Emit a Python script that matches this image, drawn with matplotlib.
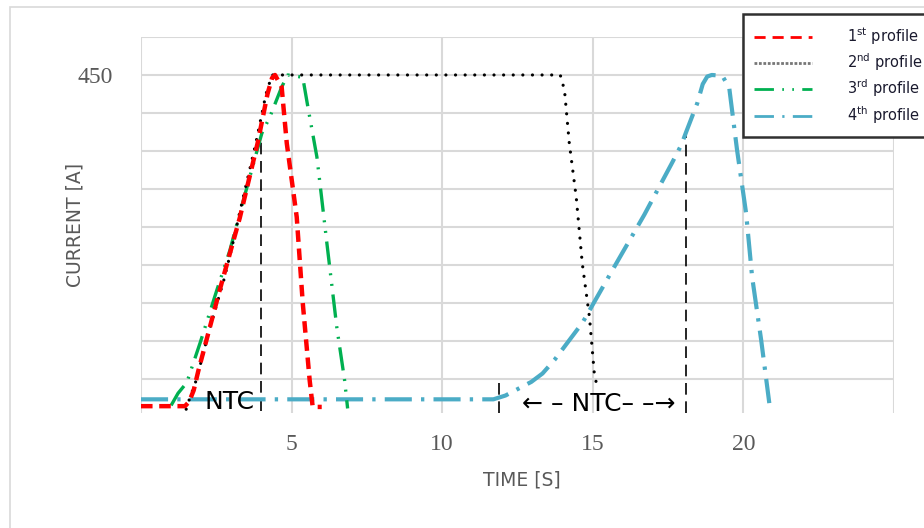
import matplotlib
matplotlib.use("Agg")
import matplotlib.pyplot as plt
from matplotlib.lines import Line2D
from matplotlib.patches import Rectangle

# profile data: time [s], current [A]
t1 = [0, 1.46, 1.6, 1.75, 1.9, 2.2, 2.6, 3.28, 3.87, 4.2, 4.35, 4.45, 4.67, 4.84, 5.17, 5.37, 5.6, 5.7, 6.0]
i1 = [14, 14, 20, 35, 60, 105, 165, 262, 360, 425, 446, 450, 434, 360, 263, 150, 48, 13, 13]

t2 = [1.5, 1.56, 1.85, 2.25, 2.75, 3.0, 3.4, 3.8, 4.15, 4.35, 13.92, 14.06, 14.22, 14.45, 14.65, 14.89, 15.05, 15.12]
i2 = [10, 18, 50, 112, 180, 220, 290, 358, 425, 450, 450, 430, 360, 289, 202, 131, 57, 44]

t3 = [1.0, 1.23, 1.52, 1.96, 2.52, 2.95, 3.28, 4.01, 4.28, 4.67, 4.87, 5.37, 5.54, 5.84, 6.17, 6.5, 6.76, 6.86]
i3 = [15, 31, 45, 97, 167, 219, 268, 373, 395, 434, 450, 447, 408, 342, 229, 118, 48, 11]

t4 = [0, 11.7, 12.1, 12.96, 13.33, 13.73, 14.66, 15.65, 16.71, 17.64, 17.94, 18.1, 18.47, 18.65, 18.8, 18.95, 19.3, 19.53, 19.79, 20.09, 20.29, 20.59, 20.86]
i4 = [23, 23, 28, 46, 57, 75, 124, 193, 266, 335, 358, 375, 413, 438, 448, 450, 449, 433, 351, 268, 184, 101, 18]

labels = [r'1$^{\rm st}$ profile', r'2$^{\rm nd}$ profile', r'3$^{\rm rd}$ profile', r'4$^{\rm th}$ profile']

# NTC marker lines: x, bottom, top
ntc_x = [4.0, 11.9, 18.1]
ntc_lo = [8, 5, 5]
ntc_hi = [390, 44, 377]

xticks = [0, 5, 10, 15, 20, 25]
xticklabels = ['', '5', '10', '15', '20', '']
yticks = [50, 100, 150, 200, 250, 300, 350, 400, 450, 500]
yticklabels = ['', '', '', '', '', '', '', '', '450', '']

red = '#ff0000'
green = '#00b050'
blue = '#4bacc6'

fig = plt.figure(figsize=(9.24, 5.28), dpi=100)
W, H = 924, 528
ax = fig.add_axes([141 / W, 1 - 413 / H, (894 - 141) / W, (413 - 37) / H])

# outer chart border
fig.patches.append(Rectangle((10 / W, -0.1), 1.2, 1 - 7 / H + 0.1, transform=fig.transFigure,
                             fill=False, edgecolor='#d9d9d9', linewidth=1.2))

ax.plot(t4, i4, color=blue, lw=3.0, linestyle=(0, (6.5, 2.2, 0.8, 2.2)), zorder=3)
ax.plot(t3, i3, color=green, lw=2.4, linestyle=(0, (7, 2.6, 0.6, 2.6, 0.6, 2.6)), zorder=4)
ax.plot(t2, i2, color='black', lw=2.3, linestyle=(0, (0.01, 3.0)), dash_capstyle='round', zorder=5)
ax.plot(t1, i1, color=red, lw=3.2, linestyle=(0, (2.6, 1.5)), zorder=6)

for x, lo, hi in zip(ntc_x, ntc_lo, ntc_hi):
    ax.plot([x, x], [lo, hi], color='black', lw=1.2, linestyle=(0, (7, 4)), zorder=2)

ax.text(2.95, 20, 'NTC', fontsize=18, ha='center', va='center', color='black', zorder=7,
        family=['DejaVu Sans'])
ax.text(15.2, 17, '\u2190 \u2013 NTC\u2013 \u2013\u2192', fontsize=18, ha='center', va='center',
        color='black', zorder=7, family=['DejaVu Sans'])

ax.set_xlim(0, 25)
ax.set_ylim(5, 500)
ax.set_xticks(xticks)
ax.set_xticklabels(xticklabels)
ax.set_yticks(yticks)
ax.set_yticklabels(yticklabels)
ax.tick_params(length=0, labelsize=17, labelcolor='#595959', pad=20)
ax.tick_params(axis='x', pad=15)
for lab in ax.get_xticklabels() + ax.get_yticklabels():
    lab.set_family('Liberation Serif')
ax.grid(True, color='#d9d9d9', lw=1.5)
ax.set_axisbelow(True)
for s in ax.spines.values():
    s.set_visible(False)

fig.text(522 / W, 1 - 480 / H, 'TIME [S]', fontsize=13.5, color='#595959', ha='center', va='center')
fig.text(75 / W, 1 - 225 / H, 'CURRENT [A]', fontsize=13.5, color='#595959', ha='center',
         va='center', rotation=90)

handles = [
    Line2D([], [], color=red, lw=2.0, linestyle=(0, (4, 2.5))),
    Line2D([], [], color='#777777', lw=2.0, linestyle=(0, (1, 0.6))),
    Line2D([], [], color=green, lw=2.0, linestyle=(0, (7, 3, 0.6, 3, 0.6, 3))),
    Line2D([], [], color=blue, lw=2.0, linestyle=(0, (7, 3, 0.8, 3))),
]
leg = fig.legend(handles, labels, loc='upper left', bbox_to_anchor=(743 / W, 1 - 14 / H),
                 borderaxespad=0, fontsize=10.5, handlelength=4.0, handletextpad=2.4,
                 labelspacing=0.32, borderpad=0.75, fancybox=False, framealpha=1,
                 edgecolor='#303030')
leg.get_frame().set_linewidth(1.8)
for txt in leg.get_texts():
    txt.set_color('#1a1a2e')

fig.savefig('out.png', dpi=100)
